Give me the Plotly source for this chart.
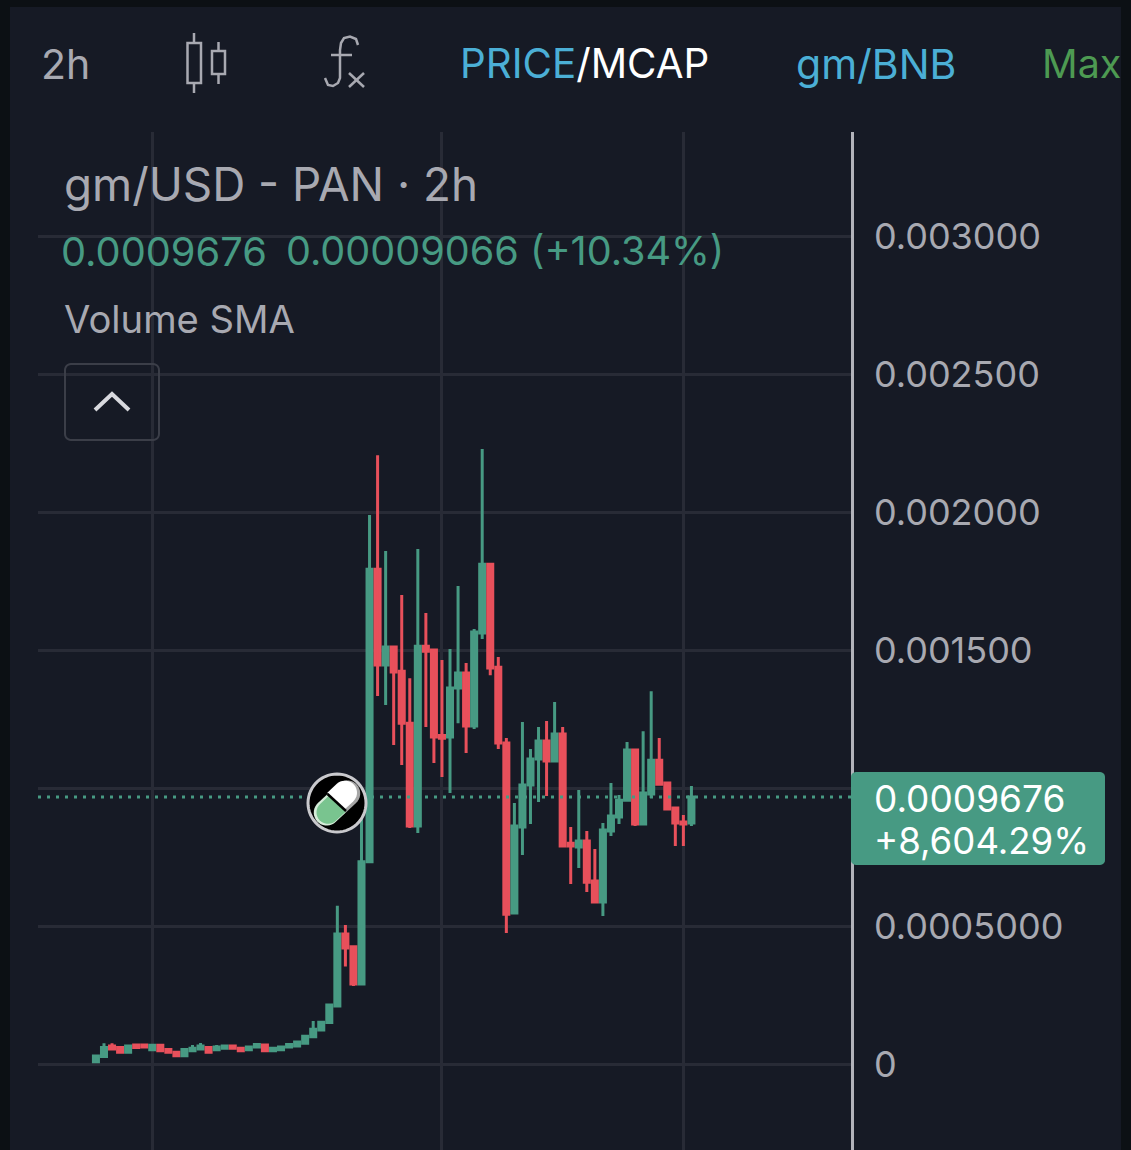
import math

import numpy as np
import plotly.graph_objects as go

# prices below are in millionths of a USD
opens = [8, 27, 65, 60, 43, 69, 69, 52, 68, 53, 43, 30, 48, 54, 60, 52, 57, 65, 57, 52,
         62, 69, 48, 52, 62, 65, 75, 99, 123, 150, 210, 471, 425, 290, 733, 1793, 1446, 1511, 1423, 1235,
         862, 1514, 1500, 1190, 1185, 1362, 1417, 1225, 1562, 1811, 1438, 1163, 547, 859, 1011, 1105, 1170, 1098, 1196, 800,
         786, 808, 663, 587, 844, 895, 956, 1138, 870, 978, 1101, 1018, 928, 877, 873]
closes = [29, 60, 54, 43, 65, 60, 62, 68, 48, 43, 30, 53, 57, 65, 43, 62, 65, 57, 48, 62,
          71, 48, 57, 62, 71, 80, 101, 126, 151, 214, 471, 420, 290, 733, 1793, 1446, 1511, 1420, 1235, 862,
          1514, 1496, 1185, 1180, 1362, 1417, 1225, 1565, 1811, 1435, 1163, 543, 862, 1011, 1105, 1170, 1098, 1196, 790, 790,
          808, 659, 587, 848, 899, 956, 1138, 870, 982, 1101, 1014, 924, 873, 870, 967.6]
highs = [33, 75, 75, 60, 65, 69, 69, 68, 68, 53, 43, 53, 69, 76, 60, 69, 65, 65, 57, 62,
         71, 69, 57, 62, 71, 80, 101, 156, 151, 214, 573, 504, 425, 920, 1989, 2206, 1859, 1515, 1699, 1398,
         1866, 1634, 1500, 1464, 1504, 1732, 1453, 1576, 2228, 1811, 1475, 1181, 946, 1239, 1141, 1221, 1243, 1312, 1221, 859,
         993, 844, 779, 873, 1018, 975, 1167, 1138, 1206, 1351, 1181, 1018, 928, 902, 1007]
lows = [8, 27, 54, 43, 43, 60, 62, 52, 48, 43, 30, 30, 48, 54, 43, 52, 57, 57, 48, 52,
        62, 48, 48, 52, 62, 65, 75, 99, 123, 150, 205, 353, 283, 290, 733, 1333, 1301, 1156, 1083, 855,
        837, 1221, 1091, 1040, 982, 1235, 1127, 1214, 1540, 1409, 1141, 475, 547, 757, 870, 949, 971, 1098, 786, 652,
        710, 623, 587, 536, 826, 870, 956, 862, 870, 964, 1014, 924, 790, 790, 862]

tick_vals = [0, 500, 1000, 1500, 2000, 2500, 3000]
# the 0.001 label sits under the last price tag, so it stays empty
tick_text = ["0", "0.0005000", "", "0.001500", "0.002000", "0.002500", "0.003000"]
time_ticks = [7, 43, 73]

BG = "#161a25"
OUTER = "#0c1014"
GRID = "#282b36"
GREEN = "#479a83"
RED = "#e8505b"
GRAY = "#a8a9b1"
BLUE = "#4bafd6"

W, H = 1131, 1150
LEFT, RIGHT, TOP = 38, 851, 132
FONT = "Inter"


def px(x):
    return (x - LEFT) / (RIGHT - LEFT)


def py(y):
    return (H - y) / (H - TOP)


def pen(path, color=GRAY, width=2.5, fill=None, layer="above"):
    return dict(type="path", path=path, xref="paper", yref="paper", layer=layer,
                line=dict(color=color, width=width), fillcolor=fill)


def poly(points, close=False):
    d = "M" + " L".join(f"{px(x):.5f},{py(y):.5f}" for x, y in points)
    return d + (" Z" if close else "")


def rounded(x0, y0, x1, y1, r):
    pts = []
    for cx, cy, start in [(x1 - r, y0 + r, -90), (x1 - r, y1 - r, 0), (x0 + r, y1 - r, 90), (x0 + r, y0 + r, 180)]:
        for a in range(start, start + 91, 15):
            pts.append((cx + r * math.cos(math.radians(a)), cy + r * math.sin(math.radians(a))))
    return poly(pts, close=True)


def circle(cx, cy, r):
    pts = [(cx + r * math.cos(math.radians(a)), cy + r * math.sin(math.radians(a))) for a in range(0, 360, 6)]
    return poly(pts, close=True)


def capsule_half(cx, cy, length, r, angle):
    # half capsule going from (cx, cy) towards angle, flat side on the centre
    ca, sa = math.cos(math.radians(angle)), math.sin(math.radians(angle))
    ex, ey = cx + length * ca, cy + length * sa
    pts = [(cx - r * sa, cy + r * ca)]
    for a in range(90, -91, -10):
        t = math.radians(a + angle)
        pts.append((ex + r * math.cos(t), ey + r * math.sin(t)))
    pts.append((cx + r * sa, cy - r * ca))
    return poly(pts, close=True)


def text(x, y, s, size, color=GRAY):
    return dict(x=px(x), y=py(y), xref="paper", yref="paper", text=s, showarrow=False,
                xanchor="left", yanchor="middle", align="left",
                font=dict(family=FONT, size=size, color=color))


scale = 1e-6
fig = go.Figure(go.Candlestick(
    x=list(range(len(opens))),
    open=np.array(opens) * scale,
    high=np.array(highs) * scale,
    low=np.array(lows) * scale,
    close=np.array(closes) * scale,
    whiskerwidth=0,
    increasing=dict(line=dict(color=GREEN, width=3), fillcolor=GREEN),
    decreasing=dict(line=dict(color=RED, width=3), fillcolor=RED),
    hoverinfo="skip",
    showlegend=False,
))

shapes = [
    # app panel
    pen(poly([(10, 7), (1121, 7), (1121, 1150), (10, 1150)], close=True), color=BG, width=0, fill=BG, layer="below"),
    # last price line
    dict(type="line", xref="paper", yref="y", x0=0, x1=1, y0=closes[-1] * scale, y1=closes[-1] * scale,
         layer="above", line=dict(color=GREEN, width=3, dash="3px,6px")),
    # last price label
    pen(rounded(851, 772, 1105, 865, 5), color=GREEN, width=0, fill=GREEN),
    # candle icon
    pen(poly([(187.5, 43), (201, 43), (201, 83), (187.5, 83)], close=True)),
    pen(poly([(194, 33), (194, 43)])),
    pen(poly([(194, 83), (194, 93)])),
    pen(poly([(212, 51), (225, 51), (225, 74), (212, 74)], close=True)),
    pen(poly([(218.5, 42), (218.5, 51)])),
    pen(poly([(218.5, 74), (218.5, 84)])),
    # fx icon
    pen(poly([(358, 45), (356, 39), (350, 36.5), (344, 38), (341, 43), (340, 50), (340, 78),
              (338, 83), (333, 86), (328, 85), (325, 78)])),
    pen(poly([(331, 55), (352, 55)])),
    pen(poly([(349, 73), (364, 87)])),
    pen(poly([(364, 73), (349, 87)])),
    # collapse button
    pen(rounded(65, 364, 159, 440, 6), color="#3b3e48", width=2),
    pen(poly([(95, 410), (112, 394), (129, 410)]), color="#d8d9de", width=4),
    # pill badge
    pen(circle(337, 803, 29), color="#c9c9cd", width=3, fill="#000000"),
    pen(capsule_half(337, 803, 14, 13, -43), color="#000000", width=0, fill="#a6a6a6"),
    pen(capsule_half(335.5, 801.5, 13, 12, -43), color="#000000", width=0, fill="#ffffff"),
    pen(capsule_half(337, 803, 14, 13, 137), color="#000000", width=0, fill="#d5ecd9"),
    pen(capsule_half(337.5, 803.5, 13, 11.5, 137), color="#000000", width=0, fill="#79c48f"),
    pen(poly([(327.5, 794), (346, 811)]), color="#000000", width=2.5),
]

annotations = [
    text(39, 64, "2h", 41),
    text(458, 64, f"<span style='color:{BLUE}'>PRICE</span>/MCAP", 40.3, "#ffffff"),
    text(794, 64, "gm/BNB", 41, BLUE),
    text(1040, 64, "Max", 39.5, "#4d9a52"),
    text(62, 184, "gm/USD - PAN · 2h", 45.8),
    text(59, 251, "0.0009676", 39.8, GREEN),
    text(284, 251, "0.00009066 (+10.34%)", 39.6, GREEN),
    text(62, 319, "Volume SMA", 38.2),
    text(872, 798, "0.0009676", 37, "#ffffff"),
    text(872, 841, "+8,604.29%", 36.6, "#ffffff"),
]

fig.update_layout(
    width=W,
    height=H,
    autosize=False,
    margin=dict(l=LEFT, r=W - RIGHT, t=TOP, b=0, pad=0),
    paper_bgcolor=OUTER,
    plot_bgcolor=BG,
    boxgap=0.375,
    boxgroupgap=0,
    showlegend=False,
    hovermode=False,
    shapes=shapes,
    annotations=annotations,
    xaxis=dict(
        range=[-7.2, 93.83],
        rangeslider=dict(visible=False),
        tickvals=time_ticks,
        showticklabels=False,
        ticks="",
        showgrid=True,
        gridcolor=GRID,
        gridwidth=2.5,
        zeroline=False,
    ),
    yaxis=dict(
        side="right",
        range=[-311.6 * scale, 3377 * scale],
        tickvals=[v * scale for v in tick_vals],
        ticktext=tick_text,
        tickfont=dict(family=FONT, size=36, color=GRAY),
        ticks="outside",
        ticklen=13,
        tickcolor="rgba(0,0,0,0)",
        showgrid=True,
        gridcolor=GRID,
        gridwidth=2.5,
        zeroline=False,
        showline=True,
        linecolor="#b2b3ba",
        linewidth=2.5,
    ),
)

fig.write_html("out.html", config=dict(displayModeBar=False),
               post_script="document.body.style.margin='0';")
